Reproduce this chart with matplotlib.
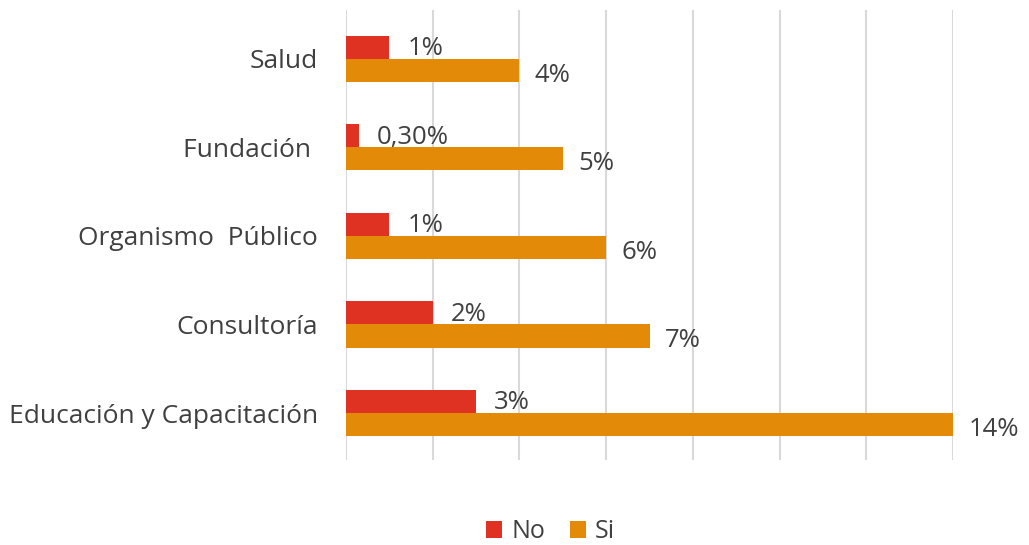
import matplotlib
matplotlib.use("Agg")
import matplotlib.pyplot as plt
import numpy as np

categories = ["Educación y Capacitación", "Consultoría", "Organismo  Público", "Fundación ", "Salud"]
no_values = [3, 2, 1, 0.3, 1]
si_values = [14, 7, 6, 5, 4]
no_labels = ["3%", "2%", "1%", "0,30%", "1%"]
si_labels = ["14%", "7%", "6%", "5%", "4%"]

red = "#E03222"
orange = "#E38A08"
txt = "#404040"

plt.rcParams['font.family'] = ['Open Sans', 'DejaVu Sans']

fig = plt.figure(figsize=(10.29, 5.45), dpi=100)
ax = fig.add_axes([346/1029, 85/545, (953-346)/1029, 450/545])

y = np.arange(len(categories))
h = 0.26
ax.barh(y + h/2, no_values, height=h, color=red, label="No", zorder=3)
ax.barh(y - h/2, si_values, height=h, color=orange, label="Si", zorder=3)

for yi, v, lab in zip(y, no_values, no_labels):
    ax.annotate(lab, (v, yi + h/2), xytext=(13, -1), textcoords="offset points",
                ha="left", va="center", fontsize=18.5, color=txt)
for yi, v, lab in zip(y, si_values, si_labels):
    ax.annotate(lab, (v, yi - h/2), xytext=(11, -3.5), textcoords="offset points",
                ha="left", va="center", fontsize=18.5, color=txt)

ax.set_xlim(0, 14)
ax.set_ylim(-0.53, 4.55)
ax.set_xticks(np.arange(0, 15, 2))
ax.set_xticklabels([])
ax.tick_params(axis="x", length=0)
ax.tick_params(axis="y", length=0, pad=20, labelsize=19, labelcolor=txt)
ax.set_yticks(y)
ax.set_yticklabels(categories)
ax.grid(axis="x", color="#D9D9D9", linewidth=1.5, zorder=0)
for s in ax.spines.values():
    s.set_visible(False)

handles, labels = ax.get_legend_handles_labels()
fig.legend(handles, labels, loc="center", bbox_to_anchor=(0.535, 0.024), ncol=2,
           frameon=False, fontsize=18, labelcolor=txt, handlelength=0.65,
           handleheight=0.65, handletextpad=0.35, columnspacing=1.0,
           borderpad=0.0)

fig.savefig("out.png", dpi=100)
